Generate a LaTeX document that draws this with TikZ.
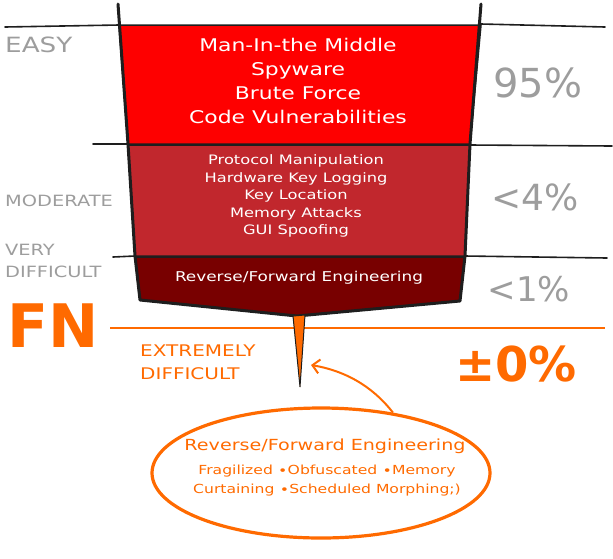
\documentclass[tikz,border=0pt]{standalone}
\usepackage{fontspec}
\setmainfont{DejaVu Sans}[FakeStretch=1.25]
\newfontfamily\numfont{DejaVu Sans}
\usetikzlibrary{arrows.meta,shapes.geometric}
\definecolor{easyred}{HTML}{FE0000}
\definecolor{modred}{HTML}{C1272D}
\definecolor{hardred}{HTML}{780000}
\definecolor{fnorange}{HTML}{FF6A00}
\definecolor{levelgray}{HTML}{9D9D9D}
\definecolor{ink}{HTML}{1E1E1E}
\newcommand{\fsz}[2]{\fontsize{#1}{#2}\selectfont}

\begin{document}
\begin{tikzpicture}[x=1pt, y=-1pt,
    band/.style={draw=ink, line width=1.5pt, line join=round},
    rule/.style={draw=ink, line width=1.6pt, line cap=round},
    side/.style={draw=ink, line width=3pt, line cap=round, line join=round},
    level/.style={anchor=west, align=left, text=levelgray, inner sep=0pt},
    share/.style={text=levelgray, font=\numfont\fsz{#1}{#1}},
    attack/.style={align=center, text=white}]
  \useasboundingbox (0,0) rectangle (613,558);

  % funnel bands
  \path[band, fill=easyred]  (119,25) -- (481,25) -- (470,144) -- (128,144) -- cycle;
  \path[band, fill=modred]   (128,145) -- (470,145) -- (465,256) -- (135,256) -- cycle;
  \path[band, fill=hardred]  (135,257) -- (465,257) -- (460,301) -- (297,316) -- (140,300) -- cycle;

  % level rules
  \draw[rule] (5,27) -- (119,25);
  \draw[rule] (481,24) -- (605,27);
  \draw[rule] (93,144) -- (128,144);
  \draw[rule] (470,145) -- (612,146);
  \draw[rule] (113,257) -- (135,256);
  \draw[rule] (465,256) -- (607,258);
  \draw[fnorange, line width=2.5pt] (110,328) -- (605,328);

  % funnel sides
  \draw[side] (118,4) -- (128,144) -- (135,256) -- (140,300) -- (297,316) -- (460,301)
              -- (465,256) -- (470,144) -- (481,4);
  \path[draw=ink, fill=fnorange, line width=1pt] (293,316) -- (300,387) -- (305,315) -- cycle;

  % attacks
  \node[attack, font=\fsz{17.5}{24}] (easyAttacks) at (298,81)
    {Man-In-the Middle\\Spyware\\Brute Force\\Code Vulnerabilities};
  \node[attack, font=\fsz{13}{17.5}] (moderateAttacks) at (296,196)
    {Protocol Manipulation\\Hardware Key Logging\\Key Location\\Memory Attacks\\GUI Spoofing};
  \node[attack, font=\fsz{13.5}{17}] (hardAttacks) at (299,278)
    {Reverse/Forward Engineering};

  % levels
  \node[level, font=\fsz{21}{24}]   (easy)          at (5,45)  {EASY};
  \node[level, font=\fsz{15.5}{20}] (moderate)      at (5,201) {MODERATE};
  \node[level, font=\fsz{15.5}{22}] (veryDifficult) at (5,261) {VERY\\DIFFICULT};
  \node[level, text=fnorange, font=\numfont\bfseries\fsz{60}{60}] (FN) at (7,326) {FN};
  \node[level, text=fnorange, font=\fsz{16}{23}] (extremelyDifficult) at (140,362) {EXTREMELY\\DIFFICULT};

  % shares
  \node[share=40] (easyShare)     at (538,83)  {95\%};
  \node[share=36] (moderateShare) at (535,197) {<4\%};
  \node[share=34] (hardShare)     at (529,289) {<1\%};
  \node[text=fnorange, font=\numfont\bfseries\fsz{48}{48}] (fnShare) at (516,364) {±0\%};

  % FN callout
  \node[draw=fnorange, ellipse, line width=3.2pt, minimum width=338pt, minimum height=130pt,
        inner sep=0pt] (revfwd) at (321,473) {};
  \node[text=fnorange, font=\fsz{15.3}{18}] (revfwdTitle) at (325,446)
    {Reverse/Forward Engineering};
  \node[text=fnorange, align=center, font=\fsz{12.5}{19}] (revfwdList) at (327,481)
    {Fragilized ∙Obfuscated ∙Memory\\Curtaining ∙Scheduled Morphing;)};
  \coordinate (spiketip) at (311,365);
  \draw[fnorange, line width=2pt, -{Straight Barb[length=7pt,width=14pt]}]
    (revfwd.40) .. controls (377,392) and (352,372) .. (spiketip);
\end{tikzpicture}
\end{document}
